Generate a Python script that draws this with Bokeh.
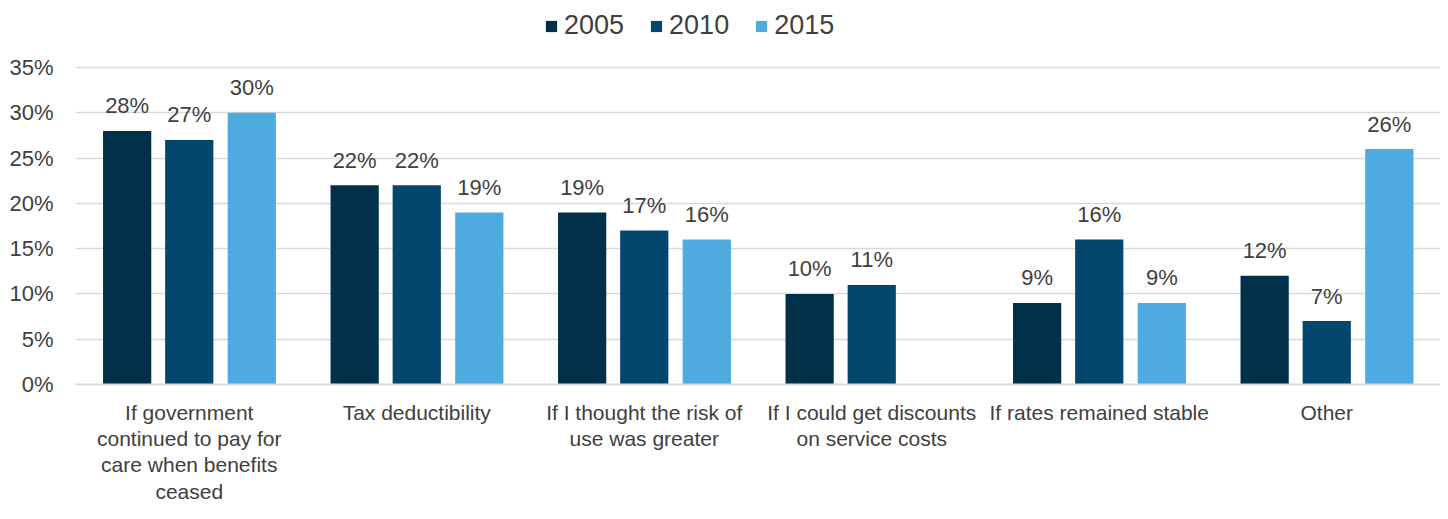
from bokeh.plotting import figure
from bokeh.models import ColumnDataSource, FactorRange, Range1d, FixedTicker, NumeralTickFormatter
from bokeh.transform import dodge
from bokeh.embed import file_html
from bokeh.resources import INLINE
from bokeh.core.properties import value

categories = [
    "If government\ncontinued to pay for\ncare when benefits\nceased",
    "Tax deductibility",
    "If I thought the risk of\nuse was greater",
    "If I could get discounts\non service costs",
    "If rates remained stable",
    "Other",
]
years = ["2005", "2010", "2015"]
v2005 = [28, 22, 19, 10, 9, 12]
v2010 = [27, 22, 17, 11, 16, 7]
v2015 = [30, 19, 16, None, 9, 26]
colors = ["#00304A", "#04476E", "#4EABDF"]
y_ticks = [0, 5, 10, 15, 20, 25, 30, 35]

FONT = "Liberation Sans"
TXT = "#404040"

p = figure(
    x_range=FactorRange(*categories, range_padding=0),
    y_range=Range1d(0, 42.40),
    width=1440, height=511,
    output_backend="svg", toolbar_location=None,
    min_border_left=75, min_border_right=0, min_border_top=0, min_border_bottom=127,
)
p.outline_line_color = None

offsets = [-0.273, 0.0, 0.275]
for yr, vals, col, off in zip(years, [v2005, v2010, v2015], colors, offsets):
    xs = [c for c, v in zip(categories, vals) if v is not None]
    ys = [v for v in vals if v is not None]
    src = ColumnDataSource(dict(x=xs, y=ys, lab=[f"{v}%" for v in ys]))
    p.vbar(x=dodge("x", off, range=p.x_range), top="y", width=0.212, source=src,
           fill_color=col, line_color=None, legend_label=yr)
    p.text(x=dodge("x", off, range=p.x_range), y="y", text="lab", source=src,
           text_align="center", text_baseline="alphabetic", y_offset=-25,
           text_font=value(FONT), text_font_size="22px", text_color=TXT)

# y axis
p.yaxis.ticker = FixedTicker(ticks=y_ticks)
p.yaxis.formatter = NumeralTickFormatter(format="0")
p.yaxis.major_label_overrides = {t: f"{t}%" for t in y_ticks}
p.yaxis.axis_line_color = None
p.yaxis.major_tick_line_color = None
p.yaxis.minor_tick_line_color = None
p.yaxis.major_tick_out = 0
p.yaxis.major_label_standoff = 22
p.yaxis.major_label_text_font = FONT
p.yaxis.major_label_text_font_size = "22px"
p.yaxis.major_label_text_color = TXT

# x axis
p.xaxis.axis_line_color = "#d9d9d9"
p.xaxis.axis_line_width = 2
p.xaxis.major_tick_line_color = None
p.xaxis.major_tick_out = 0
p.xaxis.major_label_standoff = 16
p.xaxis.major_label_text_font = FONT
p.xaxis.major_label_text_font_size = "21px"
p.xaxis.major_label_text_color = TXT
p.xaxis.major_label_text_line_height = 1.15
p.xaxis.major_label_orientation = "horizontal"

p.xgrid.grid_line_color = None
p.ygrid.grid_line_color = "#d9d9d9"
p.ygrid.grid_line_width = 1.5

leg = p.legend[0]
leg.orientation = "horizontal"
leg.location = (469, 343)
leg.padding = 0
leg.margin = 0
leg.spacing = 25
leg.label_standoff = 6
leg.glyph_width = 14
leg.glyph_height = 14
leg.border_line_color = None
leg.background_fill_alpha = 0
leg.label_text_font = FONT
leg.label_text_font_size = "27px"
leg.label_text_color = TXT

open("out.html", "w").write(file_html(p, INLINE))
